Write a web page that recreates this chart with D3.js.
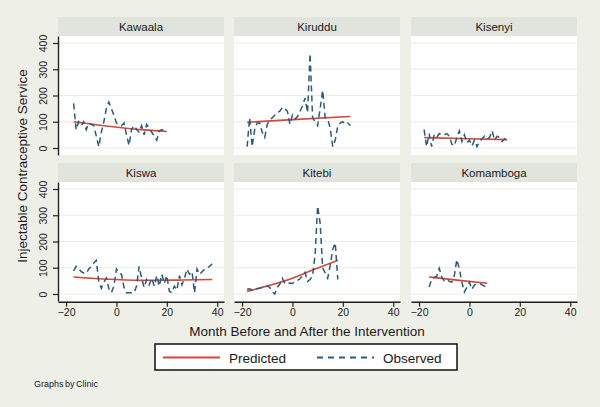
<!DOCTYPE html>
<html>
<head>
<meta charset="utf-8">
<script src="https://cdn.jsdelivr.net/npm/d3@7"></script>
<style>
  body { margin: 0; background: #eef0e8; }
  svg { display: block; }
  text { font-family: "Liberation Sans", Arial, sans-serif; }
</style>
</head>
<body>
<svg id="chart" width="600" height="407"></svg>
<script>
// ---------------- DATA ----------------
const clinics = ["Kawaala", "Kiruddu", "Kisenyi", "Kiswa", "Kitebi", "Komamboga"];

const kawaalaStart = -17;
const kawaalaObserved = [170, 70, 100, 85, 100, 70, 95, 90, 85, 45, 5, 60, 100, 150, 175, 150, 125, 95, 90, 85,
  95, 50, 10, 70, 85, 70, 60, 85, 50, 90, 75, 60, 45, 30, 65, 70, 65, 65];
const kawaalaPredMonths = [-17, -5, 11, 20];
const kawaalaPredicted = [100, 85, 69, 63];

const kiruddoStart = -18;
const kiruddoObserved = [5, 115, 5, 70, 95, 95, 60, 40, 90, 105, 115, 125, 135, 140, 155, 150, 140, 90, 125, 110,
  120, 140, 160, 190, 135, 360, 115, 100, 85, 150, 220, 115, 110, 75, 5, 30, 85, 95, 100, 90, 95, 85];
const kiruddoPredMonths = [-18, 0, 23];
const kiruddoPredicted = [98, 108, 120];

const kisenyiStart = -18;
const kisenyiObserved = [70, 5, 55, 5, 50, 40, 55, 50, 50, 55, 45, 15, 8, 40, 65, 25, 50, 20, 30, 8,
  30, 5, 25, 35, 45, 35, 40, 65, 30, 45, 40, 25, 35, 20];
const kisenyiPredMonths = [-18, 0, 15];
const kisenyiPredicted = [40, 35, 32];

const kiswaStart = -17;
const kiswaObserved = [88, 105, 98, 85, 80, 78, 95, 105, 118, 128, 45, 22, 45, 60, 20, 5, 30, 95, 80, 75,
  25, 5, 5, 5, 5, 30, 105, 60, 25, 55, 35, 60, 30, 70, 30, 75, 40, 70, 10, 5,
  30, 15, 70, 35, 60, 95, 75, 85, 5, 95, 75, 85, 95, 100, 105, 115];
const kiswaPredMonths = [-17, -5, 10, 25, 38];
const kiswaPredicted = [65, 57, 52, 53, 55];

const kitebiStart = -18;
const kitebiObserved = [18, 20, 15, 22, 20, 22, 25, 28, 30, 25, 8, 0, 25, 38, 60, 40, 38, 42, 40, 48,
  52, 58, 70, 82, 48, 55, 70, 150, 335, 270, 100, 80, 60, 110, 170, 195, 55];
const kitebiPredMonths = [-18, -9, 0, 9, 18];
const kitebiPredicted = [10, 33, 60, 95, 128];

const komambogaStart = -16;
const komambogaObserved = [27, 55, 62, 68, 98, 65, 50, 55, 48, 45, 70, 131, 95, 45, 8, 25, 45, 18, 35, 38,
  40, 35, 30, 32];
const komambogaPredMonths = [-16, -4, 7];
const komambogaPredicted = [65, 52, 41];

const yTicks = [0, 100, 200, 300, 400];
const xTicks = [-20, 0, 20, 40];
const yTitle = "Injectable Contraceptive Service";
const xTitle = "Month Before and After the Intervention";
const legendLabels = ["Predicted", "Observed"];
const note = "Graphs by Clinic";

// ---------------- BUILD ----------------
const starts = [kawaalaStart, kiruddoStart, kisenyiStart, kiswaStart, kitebiStart, komambogaStart];
const observed = [kawaalaObserved, kiruddoObserved, kisenyiObserved, kiswaObserved, kitebiObserved, komambogaObserved];
const predMonths = [kawaalaPredMonths, kiruddoPredMonths, kisenyiPredMonths, kiswaPredMonths, kitebiPredMonths, komambogaPredMonths];
const predicted = [kawaalaPredicted, kiruddoPredicted, kisenyiPredicted, kiswaPredicted, kitebiPredicted, komambogaPredicted];

const panels = clinics.map((name, i) => ({
  name,
  obs: observed[i].map((v, k) => ({ m: starts[i] + k, v })),
  pred: predMonths[i].map((m, k) => ({ m, v: predicted[i][k] }))
}));

const RED = "#cf4a3c", BLUE = "#2d5b77";
const colLeft = [58, 234, 411], panelW = 166;
const rowTop = [17, 163], headerH = 19, plotH = 119;

const x = d3.scaleLinear().domain([-23.2, 42.7]).range([0, panelW]);
const y = d3.scaleLinear().domain([-26.7, 426.7]).range([plotH, 0]);

const svg = d3.select("#chart");
svg.append("rect").attr("width", 600).attr("height", 407).attr("fill", "#eef0e8");

const obsLine = d3.line().x(d => x(d.m)).y(d => y(d.v));
const predLine = d3.line().x(d => x(d.m)).y(d => y(d.v)).curve(d3.curveMonotoneX);

panels.forEach((p, i) => {
  const col = i % 3, row = Math.floor(i / 3);
  const g = svg.append("g").attr("transform", `translate(${colLeft[col]},${rowTop[row]})`);
  g.append("rect").attr("width", panelW).attr("height", headerH).attr("fill", "#e0e4dd");
  g.append("text").attr("x", panelW / 2).attr("y", 14).attr("text-anchor", "middle")
    .attr("font-size", 11.5).attr("fill", "#1a1a1a").text(p.name);

  const pg = g.append("g").attr("transform", `translate(0,${headerH})`);
  pg.append("rect").attr("width", panelW).attr("height", plotH).attr("fill", "#ffffff");
  pg.selectAll("line.grid").data(yTicks).enter().append("line")
    .attr("x1", 0).attr("x2", panelW)
    .attr("y1", d => y(d)).attr("y2", d => y(d))
    .attr("stroke", "#ebede4").attr("stroke-width", 1);

  pg.append("path").datum(p.pred).attr("d", predLine)
    .attr("fill", "none").attr("stroke", RED).attr("stroke-width", 1.6);
  pg.append("path").datum(p.obs).attr("d", obsLine)
    .attr("fill", "none").attr("stroke", BLUE).attr("stroke-width", 1.5)
    .attr("stroke-dasharray", "6,4");

  if (col === 0) {
    const ax = pg.append("g").call(d3.axisLeft(y).tickValues(yTicks).tickSize(5).tickSizeOuter(0));
    ax.select(".domain").attr("stroke", "#222").attr("stroke-width", 1.4);
    ax.selectAll(".tick line").attr("stroke", "#222").attr("stroke-width", 1.2);
    ax.selectAll(".tick text").attr("transform", "rotate(-90)")
      .attr("x", 0).attr("y", -11).attr("dy", 0).attr("text-anchor", "middle")
      .attr("font-size", 10.5).attr("fill", "#222")
      .style("font-family", '"Liberation Sans", Arial, sans-serif');
  }
  if (row === 1) {
    const ax = pg.append("g").attr("transform", `translate(0,${plotH + 0.7})`)
      .call(d3.axisBottom(x).tickValues(xTicks).tickSize(5).tickSizeOuter(0).tickPadding(2));
    ax.select(".domain").attr("stroke", "#222").attr("stroke-width", 1.4);
    ax.selectAll(".tick line").attr("stroke", "#222").attr("stroke-width", 1.2);
    ax.selectAll(".tick text").attr("font-size", 10.5).attr("fill", "#222")
      .style("font-family", '"Liberation Sans", Arial, sans-serif');
  }
});

// axis titles
svg.append("text").attr("transform", "translate(27,166) rotate(-90)")
  .attr("text-anchor", "middle").attr("font-size", 13.5).attr("fill", "#1a1a1a").text(yTitle);
svg.append("text").attr("x", 307).attr("y", 336)
  .attr("text-anchor", "middle").attr("font-size", 13.5).attr("fill", "#1a1a1a").text(xTitle);

// legend
const lg = svg.append("g");
lg.append("rect").attr("x", 155).attr("y", 344).attr("width", 302).attr("height", 26)
  .attr("fill", "#ffffff").attr("stroke", "#111").attr("stroke-width", 1.5);
lg.append("line").attr("x1", 163).attr("x2", 220).attr("y1", 357.5).attr("y2", 357.5)
  .attr("stroke", RED).attr("stroke-width", 2);
lg.append("text").attr("x", 229).attr("y", 362.5).attr("font-size", 13.5).attr("fill", "#1a1a1a").text(legendLabels[0]);
lg.append("line").attr("x1", 317).attr("x2", 374).attr("y1", 357.5).attr("y2", 357.5)
  .attr("stroke", BLUE).attr("stroke-width", 2).attr("stroke-dasharray", "6,5");
lg.append("text").attr("x", 383).attr("y", 362.5).attr("font-size", 13.5).attr("fill", "#1a1a1a").text(legendLabels[1]);

svg.append("text").attr("x", 34).attr("y", 386.5).attr("font-size", 9).attr("fill", "#222")
  .attr("word-spacing", -1).text(note);
</script>
</body>
</html>
